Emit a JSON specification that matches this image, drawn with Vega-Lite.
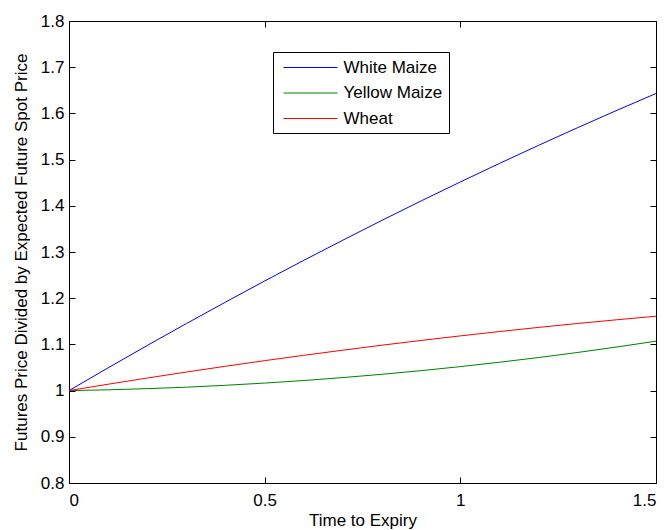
{
  "$schema": "https://vega.github.io/schema/vega-lite/v6.json",
  "width": 587,
  "height": 462,
  "autosize": {"type": "none"},
  "padding": {"left": 69, "top": 21, "right": 12, "bottom": 47},
  "background": "white",
  "config": {
    "view": {"stroke": null},
    "font": "Liberation Sans",
    "axis": {
      "grid": false,
      "domainColor": "black",
      "domainWidth": 1,
      "tickColor": "black",
      "tickWidth": 1,
      "tickSize": -6,
      "labelColor": "black",
      "labelFontSize": 17,
      "titleColor": "black",
      "titleFontSize": 17,
      "titleFontWeight": "normal"
    }
  },
  "data": {
    "values": [
      {"t": 0.0, "r": 1.0, "series": "White Maize"},
      {"t": 0.1, "r": 1.0493, "series": "White Maize"},
      {"t": 0.2, "r": 1.0977, "series": "White Maize"},
      {"t": 0.3, "r": 1.1451, "series": "White Maize"},
      {"t": 0.4, "r": 1.1916, "series": "White Maize"},
      {"t": 0.5, "r": 1.2373, "series": "White Maize"},
      {"t": 0.6, "r": 1.282, "series": "White Maize"},
      {"t": 0.7, "r": 1.3257, "series": "White Maize"},
      {"t": 0.8, "r": 1.3686, "series": "White Maize"},
      {"t": 0.9, "r": 1.4106, "series": "White Maize"},
      {"t": 1.0, "r": 1.4516, "series": "White Maize"},
      {"t": 1.1, "r": 1.4917, "series": "White Maize"},
      {"t": 1.2, "r": 1.5309, "series": "White Maize"},
      {"t": 1.3, "r": 1.5692, "series": "White Maize"},
      {"t": 1.4, "r": 1.6066, "series": "White Maize"},
      {"t": 1.5, "r": 1.6431, "series": "White Maize"},
      {"t": 0.0, "r": 1.0, "series": "Yellow Maize"},
      {"t": 0.1, "r": 1.0017, "series": "Yellow Maize"},
      {"t": 0.2, "r": 1.0042, "series": "Yellow Maize"},
      {"t": 0.3, "r": 1.0074, "series": "Yellow Maize"},
      {"t": 0.4, "r": 1.0115, "series": "Yellow Maize"},
      {"t": 0.5, "r": 1.0163, "series": "Yellow Maize"},
      {"t": 0.6, "r": 1.0218, "series": "Yellow Maize"},
      {"t": 0.7, "r": 1.0282, "series": "Yellow Maize"},
      {"t": 0.8, "r": 1.0353, "series": "Yellow Maize"},
      {"t": 0.9, "r": 1.0432, "series": "Yellow Maize"},
      {"t": 1.0, "r": 1.0519, "series": "Yellow Maize"},
      {"t": 1.1, "r": 1.0614, "series": "Yellow Maize"},
      {"t": 1.2, "r": 1.0716, "series": "Yellow Maize"},
      {"t": 1.3, "r": 1.0826, "series": "Yellow Maize"},
      {"t": 1.4, "r": 1.0944, "series": "Yellow Maize"},
      {"t": 1.5, "r": 1.107, "series": "Yellow Maize"},
      {"t": 0.0, "r": 1.0, "series": "Wheat"},
      {"t": 0.1, "r": 1.0138, "series": "Wheat"},
      {"t": 0.2, "r": 1.0272, "series": "Wheat"},
      {"t": 0.3, "r": 1.0402, "series": "Wheat"},
      {"t": 0.4, "r": 1.0527, "series": "Wheat"},
      {"t": 0.5, "r": 1.0648, "series": "Wheat"},
      {"t": 0.6, "r": 1.0764, "series": "Wheat"},
      {"t": 0.7, "r": 1.0875, "series": "Wheat"},
      {"t": 0.8, "r": 1.0983, "series": "Wheat"},
      {"t": 0.9, "r": 1.1086, "series": "Wheat"},
      {"t": 1.0, "r": 1.1184, "series": "Wheat"},
      {"t": 1.1, "r": 1.1278, "series": "Wheat"},
      {"t": 1.2, "r": 1.1368, "series": "Wheat"},
      {"t": 1.3, "r": 1.1453, "series": "Wheat"},
      {"t": 1.4, "r": 1.1533, "series": "Wheat"},
      {"t": 1.5, "r": 1.161, "series": "Wheat"}
    ]
  },
  "layer": [
    {
      "mark": {"type": "line", "strokeWidth": 1, "interpolate": "monotone"},
      "encoding": {
        "x": {
          "field": "t", "type": "quantitative",
          "scale": {"domain": [0, 1.5], "nice": false},
          "axis": {"orient": "bottom", "values": [0, 0.5, 1, 1.5], "format": "~g", "labelPadding": 15, "title": "Time to Expiry", "titleBaseline": "alphabetic", "titleY": 42}
        },
        "y": {
          "field": "r", "type": "quantitative",
          "scale": {"domain": [0.8, 1.8], "nice": false, "zero": false},
          "axis": {"orient": "left", "values": [0.8, 0.9, 1, 1.1, 1.2, 1.3, 1.4, 1.5, 1.6, 1.7, 1.8], "format": "~g", "labelPadding": 11, "title": "Futures Price Divided by Expected Future Spot Price", "titleBaseline": "alphabetic", "titleX": -43}
        },
        "color": {
          "field": "series", "type": "nominal",
          "scale": {"domain": ["White Maize", "Yellow Maize", "Wheat"], "range": ["#0000ff", "#008000", "#ff0000"]},
          "legend": {
            "title": null,
            "orient": "none",
            "legendX": 204,
            "legendY": 31,
            "symbolType": "M-0.588,0H5.765",
            "symbolSize": 289,
            "symbolStrokeWidth": 1,
            "labelFontSize": 17,
            "labelColor": "black",
            "labelOffset": 46,
            "strokeColor": "black",
            "fillColor": "white",
            "padding": 6.5,
            "rowPadding": 8.5,
            "cornerRadius": 0,
            "encode": {
              "symbols": {
                "update": {
                  "stroke": {"scale": "color", "field": "value"},
                  "fill": {"value": "transparent"}
                }
              }
            }
          }
        }
      }
    },
    {
      "mark": {"type": "line", "opacity": 0},
      "encoding": {
        "x": {"field": "t", "type": "quantitative", "axis": {"orient": "top", "values": [0, 0.5, 1, 1.5], "labels": false, "title": null}},
        "y": {"field": "r", "type": "quantitative", "axis": {"orient": "right", "values": [0.8, 0.9, 1, 1.1, 1.2, 1.3, 1.4, 1.5, 1.6, 1.7, 1.8], "labels": false, "title": null}},
        "detail": {"field": "series"}
      }
    }
  ],
  "resolve": {"axis": {"x": "independent", "y": "independent"}}
}
